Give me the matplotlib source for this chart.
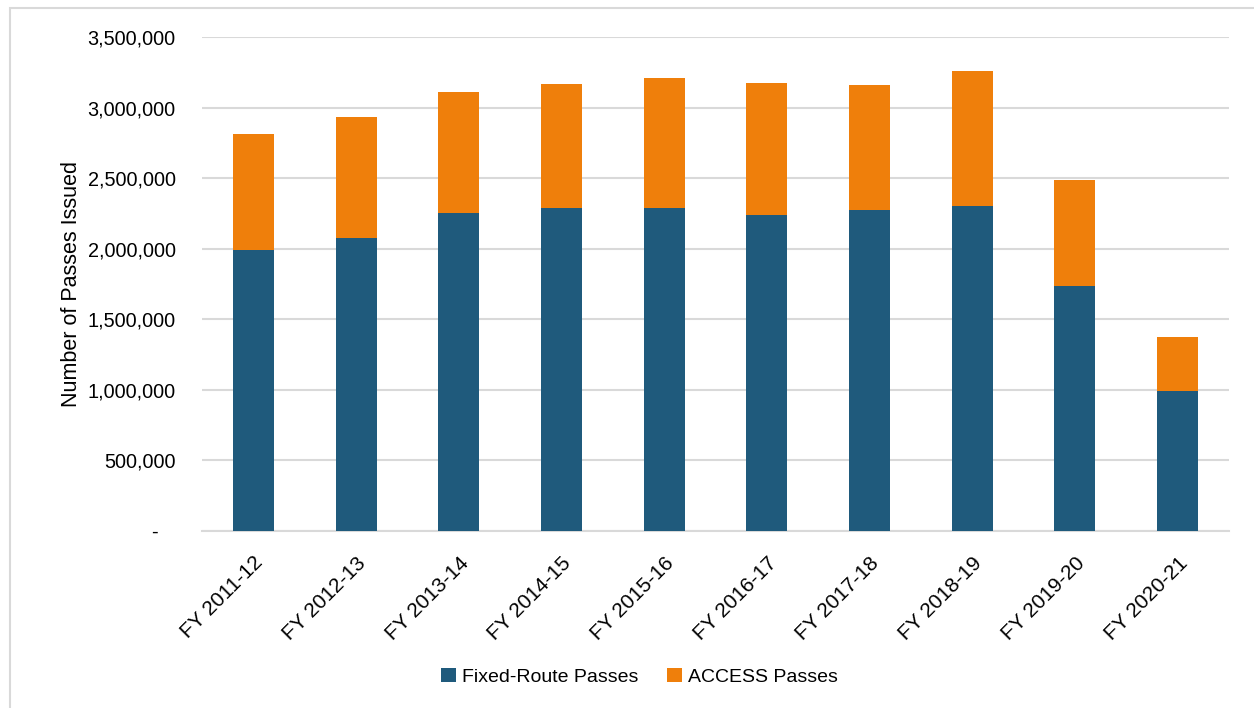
import matplotlib
matplotlib.use('Agg')
import matplotlib.pyplot as plt
from matplotlib.patches import Rectangle
from matplotlib.ticker import FuncFormatter
import numpy as np

plt.rcParams['font.family'] = ['Liberation Sans', 'DejaVu Sans']

years = ['FY 2011-12', 'FY 2012-13', 'FY 2013-14', 'FY 2014-15', 'FY 2015-16',
         'FY 2016-17', 'FY 2017-18', 'FY 2018-19', 'FY 2019-20', 'FY 2020-21']
fixed_route = [1991000, 2076000, 2253000, 2288000, 2288000,
               2239000, 2274000, 2303000, 1736000, 992000]
access = [822000, 857000, 857000, 879000, 922000,
          935000, 886000, 956000, 751000, 382000]

blue = '#1F5A7C'
orange = '#EF7F0B'
grid = '#D9D9D9'

fig = plt.figure(figsize=(12.54, 7.08), dpi=100)
ax = fig.add_axes([202/1254, 1 - 531/708, 1027/1254, 494/708])

# outer chart border
fig.patches.append(Rectangle((10/1254, -0.05), 1.2, 1 - 8/708 + 0.05,
                             transform=fig.transFigure, fill=False,
                             edgecolor=grid, linewidth=1.5))

x = np.arange(len(years))
ax.bar(x, fixed_route, width=0.4, color=blue, label='Fixed-Route Passes', zorder=3)
ax.bar(x, access, width=0.4, bottom=fixed_route, color=orange,
       label='ACCESS Passes', zorder=3)

ax.set_xlim(-0.5, len(years) - 0.5)
ax.set_ylim(0, 3500000)
ax.set_yticks(np.arange(0, 3500001, 500000))
ax.yaxis.set_major_formatter(FuncFormatter(
    lambda v, p: '-   ' if v == 0 else f'{int(v):,}'))
ax.grid(axis='y', color=grid, linewidth=1.5, zorder=0)
for s in ['top', 'right', 'left']:
    ax.spines[s].set_visible(False)
ax.spines['bottom'].set_color(grid)
ax.spines['bottom'].set_linewidth(1.5)
ax.tick_params(axis='y', length=0, pad=19, labelsize=14.3, colors='black')
ax.tick_params(axis='x', length=0, pad=16, labelsize=15)
ax.set_xticks(x)
ax.set_xticklabels(years, rotation=45, ha='right', rotation_mode='anchor')
ax.set_ylabel('Number of Passes Issued', fontsize=15.5, labelpad=4)

fig.legend(loc='center', bbox_to_anchor=(0.51, 1 - 677/708), ncol=2,
           frameon=False, fontsize=14, handlelength=0.75, handleheight=0.75,
           columnspacing=1.5, handletextpad=0.3)

fig.savefig('out.png', dpi=100)
